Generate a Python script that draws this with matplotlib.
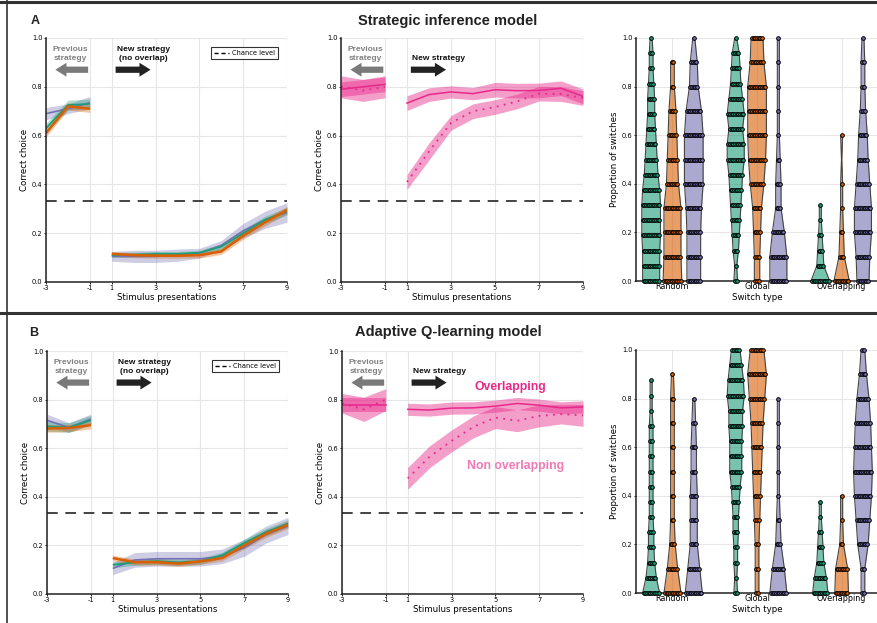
import numpy as np
import matplotlib.pyplot as plt
from matplotlib.lines import Line2D

GREEN = '#1b9e77'
ORANGE = '#d95f02'
PURPLE = '#7570b3'
PINK = '#e7298a'
LIGHT_PINK = '#f07ab5'

pre_x = [-3, -2, -1]
post_x = [1, 2, 3, 4, 5, 6, 7, 8, 9]
tick_vals = [-3, -1, 1, 3, 5, 7, 9]
categories = ['Random', 'Global', 'Overlapping']

# ---- row A, left: three strategies (mean, half band) ----
a_purple_pre = [0.69, 0.71, 0.735]
a_purple_pre_err = [0.025, 0.02, 0.025]
a_purple_post = [0.105, 0.105, 0.105, 0.11, 0.118, 0.15, 0.21, 0.255, 0.285]
a_purple_post_err = [0.02, 0.025, 0.025, 0.025, 0.02, 0.02, 0.03, 0.035, 0.04]
a_green_pre = [0.63, 0.725, 0.73]
a_green_pre_err = [0.02, 0.02, 0.02]
a_green_post = [0.11, 0.112, 0.115, 0.115, 0.12, 0.145, 0.2, 0.255, 0.29]
a_green_post_err = [0.01, 0.01, 0.01, 0.01, 0.01, 0.012, 0.015, 0.015, 0.015]
a_orange_pre = [0.61, 0.72, 0.71]
a_orange_pre_err = [0.015, 0.015, 0.015]
a_orange_post = [0.115, 0.11, 0.108, 0.108, 0.11, 0.125, 0.19, 0.245, 0.295]
a_orange_post_err = [0.01, 0.01, 0.01, 0.01, 0.012, 0.012, 0.015, 0.015, 0.015]

# ---- row B, left ----
b_purple_pre = [0.715, 0.685, 0.72]
b_purple_pre_err = [0.025, 0.02, 0.02]
b_purple_post = [0.105, 0.14, 0.145, 0.145, 0.145, 0.155, 0.19, 0.245, 0.28]
b_purple_post_err = [0.025, 0.03, 0.03, 0.03, 0.03, 0.03, 0.035, 0.035, 0.035]
b_green_pre = [0.69, 0.685, 0.715]
b_green_pre_err = [0.02, 0.02, 0.02]
b_green_post = [0.12, 0.13, 0.135, 0.13, 0.135, 0.16, 0.21, 0.255, 0.29]
b_green_post_err = [0.012, 0.012, 0.012, 0.012, 0.012, 0.012, 0.015, 0.015, 0.015]
b_orange_pre = [0.681, 0.683, 0.695]
b_orange_pre_err = [0.015, 0.015, 0.015]
b_orange_post = [0.148, 0.131, 0.131, 0.125, 0.134, 0.148, 0.2, 0.248, 0.285]
b_orange_post_err = [0.012, 0.012, 0.012, 0.012, 0.012, 0.012, 0.015, 0.015, 0.015]

# ---- middle panels: overlapping (solid) and non overlapping (dotted) ----
a_ov_pre = [0.79, 0.80, 0.81]
a_ov_pre_err = [0.03, 0.03, 0.03]
a_ov_post = [0.733, 0.768, 0.779, 0.772, 0.788, 0.784, 0.785, 0.794, 0.761]
a_ov_post_err = [0.03, 0.028, 0.025, 0.025, 0.03, 0.03, 0.03, 0.03, 0.03]
a_non_pre = [0.80, 0.785, 0.80]
a_non_pre_err = [0.045, 0.045, 0.045]
a_non_post = [0.41, 0.535, 0.652, 0.70, 0.717, 0.74, 0.772, 0.77, 0.754]
a_non_post_err = [0.03, 0.035, 0.03, 0.03, 0.03, 0.03, 0.03, 0.03, 0.03]

b_ov_pre = [0.778, 0.778, 0.778]
b_ov_pre_err = [0.03, 0.03, 0.03]
b_ov_post = [0.76, 0.757, 0.765, 0.766, 0.773, 0.784, 0.777, 0.766, 0.77]
b_ov_post_err = [0.025, 0.025, 0.025, 0.025, 0.025, 0.025, 0.025, 0.025, 0.025]
b_non_pre = [0.785, 0.76, 0.80]
b_non_pre_err = [0.04, 0.05, 0.045]
b_non_post = [0.476, 0.565, 0.63, 0.688, 0.726, 0.713, 0.733, 0.74, 0.735]
b_non_post_err = [0.045, 0.045, 0.045, 0.045, 0.045, 0.045, 0.045, 0.04, 0.045]

chance = 1 / 3

# ---- violins: number of dots per level ----
levels16 = [k / 16 for k in range(17)]
levels10 = [k / 10 for k in range(11)]

a_counts = {
    'Random': [[10, 10, 10, 11, 11, 11, 10, 8, 7, 6, 5, 4, 4, 3, 2, 2, 1],
               [11, 10, 10, 10, 7, 6, 5, 4, 2, 2, 0],
               [8, 8, 8, 9, 11, 11, 11, 9, 5, 4, 1]],
    'Global': [[2, 1, 3, 4, 5, 6, 7, 8, 10, 10, 8, 10, 8, 6, 5, 4, 1],
               [3, 3, 4, 5, 8, 10, 11, 11, 11, 8, 7],
               [10, 10, 7, 3, 3, 2, 1, 1, 1, 1, 1]],
    'Overlapping': [[11, 4, 3, 2, 1, 1, 0, 0, 0, 0, 0, 0, 0, 0, 0, 0, 0],
                    [9, 3, 2, 1, 1, 0, 1, 0, 0, 0, 0],
                    [7, 8, 10, 10, 8, 6, 5, 3, 2, 2, 1]],
}
b_counts = {
    'Random': [[10, 6, 4, 3, 3, 2, 2, 2, 2, 2, 2, 2, 1, 1, 1, 0, 0],
               [10, 6, 3, 2, 2, 2, 2, 2, 2, 1, 0],
               [10, 7, 4, 4, 4, 3, 3, 2, 1, 0, 0]],
    'Global': [[2, 1, 2, 2, 3, 3, 4, 5, 7, 7, 7, 8, 8, 10, 9, 7, 5],
               [2, 2, 2, 3, 4, 5, 6, 7, 9, 11, 8],
               [10, 7, 3, 2, 1, 1, 1, 1, 1, 0, 0]],
    'Overlapping': [[9, 7, 4, 3, 2, 1, 1, 0, 0, 0, 0, 0, 0, 0, 0, 0, 0],
                    [8, 7, 2, 1, 1, 0, 0, 0, 0, 0, 0],
                    [2, 2, 6, 8, 10, 11, 10, 9, 7, 4, 2]],
}

plt.rcParams['font.family'] = 'DejaVu Sans'
plt.rcParams['axes.edgecolor'] = '#222222'


def pos(xs):
    return [x + 3 if x < 0 else x + 2 for x in xs]


def style_curve_axes(ax, ylabel):
    ax.set_xlim(0, 11)
    ax.set_ylim(0, 1)
    ax.set_xticks(pos(tick_vals))
    ax.set_xticklabels([str(t) for t in tick_vals])
    ax.set_yticks([0, 0.2, 0.4, 0.6, 0.8, 1.0])
    ax.set_yticklabels(['0.0', '0.2', '0.4', '0.6', '0.8', '1.0'])
    ax.grid(True, color='#e6e6e6', lw=0.8)
    ax.set_axisbelow(True)
    for s in ['top', 'right']:
        ax.spines[s].set_visible(False)
    for s in ['left', 'bottom']:
        ax.spines[s].set_linewidth(1.1)
    ax.tick_params(labelsize=4.8, length=1.5, width=0.6, pad=1)
    ax.set_xlabel('Stimulus presentations', fontsize=6.2, labelpad=1)
    ax.set_ylabel(ylabel, fontsize=6.2, labelpad=2)
    ax.axhline(chance, xmin=0, xmax=1, color='#111111', lw=1.1,
               dashes=(7, 5), zorder=1)


def arrows(ax, right_text):
    bold = dict(family='Liberation Sans', weight='bold', fontsize=6.0,
                ha='center', va='center', linespacing=1.5)
    ax.text(1.1, 0.935, 'Previous\nstrategy', color='#808080', **bold)
    ax.annotate('', xy=(0.3, 0.87), xytext=(2.05, 0.87),
                arrowprops=dict(arrowstyle='simple,head_width=1.0,head_length=0.8,tail_width=0.45',
                                color='#7a7a7a', lw=0))
    ax.text(4.45, 0.935 if '\n' in right_text else 0.915, right_text,
            color='#111111', **bold)
    ax.annotate('', xy=(4.9, 0.87), xytext=(3.05, 0.87),
                arrowprops=dict(arrowstyle='simple,head_width=1.0,head_length=0.8,tail_width=0.45',
                                color='#222222', lw=0))


def curve(ax, pre, pre_err, post, post_err, color, lw):
    for xs, ys, es in [(pre_x, pre, pre_err), (post_x, post, post_err)]:
        p = pos(xs)
        y = np.array(ys)
        e = np.array(es)
        ax.fill_between(p, y - e, y + e, color=color, alpha=0.35, lw=0)
        ax.plot(p, y, color=color, lw=lw, solid_capstyle='butt')


def pink(ax, pre, pre_err, post, post_err, ls):
    for xs, ys, es in [(pre_x, pre, pre_err), (post_x, post, post_err)]:
        p = pos(xs)
        y = np.array(ys)
        e = np.array(es)
        ax.fill_between(p, y - e, y + e, color=PINK, alpha=0.45, lw=0)
        if ls == 'solid':
            ax.plot(p, y, color=PINK, lw=1.1)
        else:
            ax.plot(p, y, color=PINK, lw=1.3, ls=(0, (1, 3)))


def violins(ax, counts):
    sp = 0.0197
    colors = [GREEN, ORANGE, PURPLE]
    offsets = [-0.252, 0.0, 0.252]
    for ci, cat in enumerate(categories):
        for vi in range(3):
            c = counts[cat][vi]
            lv = levels16 if vi == 0 else levels10
            xc = ci + 1 + offsets[vi]
            used = [i for i, n in enumerate(c) if n > 0]
            lo, hi = used[0], used[-1]
            ys = np.array(lv[lo:hi + 1])
            hw = np.array([(n - 1) / 2 * sp + 0.012 if n > 0 else 0.002
                           for n in c[lo:hi + 1]])
            ax.fill_betweenx(ys, xc - hw, xc + hw, color=colors[vi], alpha=0.6,
                             lw=0, zorder=2)
            ax.plot(np.concatenate([xc - hw, (xc + hw)[::-1], [xc - hw[0]]]),
                    np.concatenate([ys, ys[::-1], [ys[0]]]),
                    color='#444444', lw=0.8, zorder=3)
            px, py = [], []
            for i in range(lo, hi + 1):
                n = c[i]
                for k in range(n):
                    px.append(xc + (k - (n - 1) / 2) * sp)
                    py.append(lv[i])
            ax.scatter(px, py, s=7, facecolor=colors[vi], edgecolor='black',
                       lw=0.7, zorder=4, clip_on=False)
    ax.set_xlim(0.569, 3.43)
    ax.set_ylim(0, 1)
    ax.set_xticks([1, 2, 3])
    ax.set_xticklabels(categories)
    ax.set_yticks([0, 0.2, 0.4, 0.6, 0.8, 1.0])
    ax.set_yticklabels(['0.0', '0.2', '0.4', '0.6', '0.8', '1.0'])
    ax.grid(True, color='#e6e6e6', lw=0.8)
    ax.set_axisbelow(True)
    for s in ['top', 'right']:
        ax.spines[s].set_visible(False)
    for s in ['left', 'bottom']:
        ax.spines[s].set_linewidth(1.1)
    ax.tick_params(axis='y', labelsize=4.8, length=1.5, width=0.6, pad=1)
    ax.tick_params(axis='x', labelsize=5.8, length=0, pad=1)
    ax.set_xlabel('Switch type', fontsize=6.2, labelpad=1)
    ax.set_ylabel('Proportion of switches', fontsize=6.2, labelpad=2)


W, H = 878, 623
fig = plt.figure(figsize=(W / 100, H / 100), dpi=100)


def box(l, t, r, b):
    return [l / W, 1 - b / H, (r - l) / W, (b - t) / H]


rows = [
    dict(top=38, bot=282, rtop=38, rbot=281, left=(46, 287), mid=(341, 583),
         curves=[(a_purple_pre, a_purple_pre_err, a_purple_post, a_purple_post_err, PURPLE, 1.2),
                 (a_green_pre, a_green_pre_err, a_green_post, a_green_post_err, GREEN, 1.3),
                 (a_orange_pre, a_orange_pre_err, a_orange_post, a_orange_post_err, ORANGE, 1.8)],
         ov=(a_ov_pre, a_ov_pre_err, a_ov_post, a_ov_post_err),
         non=(a_non_pre, a_non_pre_err, a_non_post, a_non_post_err),
         counts=a_counts),
    dict(top=351, bot=594, rtop=350, rbot=593, left=(47, 288), mid=(342, 583),
         curves=[(b_purple_pre, b_purple_pre_err, b_purple_post, b_purple_post_err, PURPLE, 1.2),
                 (b_green_pre, b_green_pre_err, b_green_post, b_green_post_err, GREEN, 1.3),
                 (b_orange_pre, b_orange_pre_err, b_orange_post, b_orange_post_err, ORANGE, 1.8)],
         ov=(b_ov_pre, b_ov_pre_err, b_ov_post, b_ov_post_err),
         non=(b_non_pre, b_non_pre_err, b_non_post, b_non_post_err),
         counts=b_counts),
]

for ri, r in enumerate(rows):
    ax1 = fig.add_axes(box(r['left'][0], r['top'], r['left'][1], r['bot']))
    style_curve_axes(ax1, 'Correct choice')
    for cv in r['curves']:
        curve(ax1, *cv)
    arrows(ax1, 'New strategy\n(no overlap)')
    leg = ax1.legend(handles=[Line2D([], [], color='black', lw=1.0, dashes=(3, 2))],
                     labels=['Chance level'], loc='upper right', fontsize=4.8,
                     frameon=True, fancybox=False, handlelength=2.2,
                     borderpad=0.45, handletextpad=0.4,
                     bbox_to_anchor=(0.975, 0.975))
    leg.get_frame().set_edgecolor('black')
    leg.get_frame().set_linewidth(0.8)

    ax2 = fig.add_axes(box(r['mid'][0], r['top'], r['mid'][1], r['bot']))
    style_curve_axes(ax2, 'Correct choice')
    pink(ax2, *r['non'], ls='dotted')
    pink(ax2, *r['ov'], ls='solid')
    arrows(ax2, 'New strategy')
    if ri == 1:
        ax2.text(7.7, 0.852, 'Overlapping', color=PINK, fontsize=8.8,
                 family='Liberation Sans', weight='bold', ha='center', va='center')
        ax2.text(7.9, 0.527, 'Non overlapping', color=LIGHT_PINK, fontsize=8.8,
                 family='Liberation Sans', weight='bold', ha='center', va='center')

    ax3 = fig.add_axes(box(636, r['rtop'], 878, r['rbot']))
    violins(ax3, r['counts'])

fig.text(448 / W, 1 - 21 / H, 'Strategic inference model', ha='center', va='center',
         fontsize=10.5, family='Liberation Sans', weight='bold', color='#222222')
fig.text(448 / W, 1 - 332 / H, 'Adaptive Q-learning model', ha='center', va='center',
         fontsize=10.5, family='Liberation Sans', weight='bold', color='#222222')
fig.text(35 / W, 1 - 21 / H, 'A', ha='center', va='center', fontsize=9,
         family='Liberation Sans', weight='bold', color='#222222')
fig.text(34 / W, 1 - 333 / H, 'B', ha='center', va='center', fontsize=9,
         family='Liberation Sans', weight='bold', color='#222222')

# panel frame lines
fig.add_artist(Line2D([0, 1], [1 - 1.5 / H, 1 - 1.5 / H], transform=fig.transFigure,
                      color='#333333', lw=2.2))
fig.add_artist(Line2D([0, 1], [1 - 313 / H, 1 - 313 / H], transform=fig.transFigure,
                      color='#333333', lw=2.2))
fig.add_artist(Line2D([7 / W, 7 / W], [0, 1], transform=fig.transFigure,
                      color='#333333', lw=1.2))

fig.savefig('out.png', dpi=100)
